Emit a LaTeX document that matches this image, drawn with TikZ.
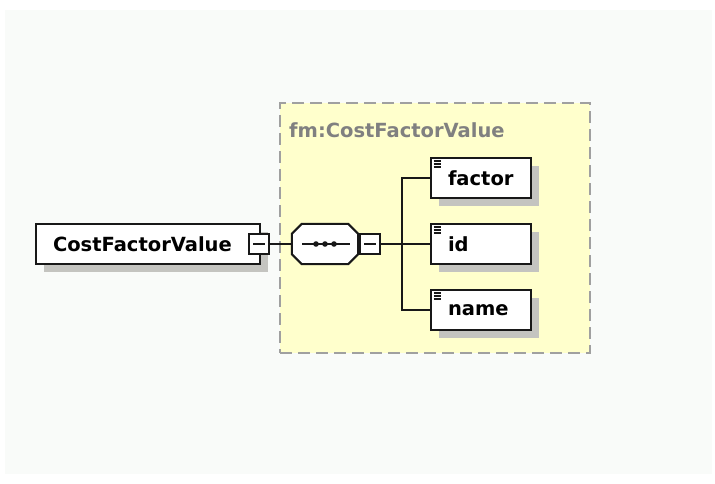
\documentclass[tikz,border=0pt]{standalone}
\usepackage{fontspec}
\setmainfont{DejaVu Sans}
\usetikzlibrary{shadows}
\definecolor{pagebg}{RGB}{249,251,249}
\definecolor{groupbg}{RGB}{255,255,204}
\definecolor{groupline}{RGB}{160,160,160}
\definecolor{shade}{RGB}{196,196,192}
\definecolor{titlegray}{RGB}{128,128,128}
\definecolor{boxline}{RGB}{24,24,24}

\begin{document}
\begin{tikzpicture}[x=1pt,y=-1pt]
	\tikzset{
		elem/.style={draw=boxline, line width=2pt, fill=white, minimum height=40pt,
			inner xsep=17pt, align=left, font=\bfseries\fontsize{19.5}{22}\selectfont,
			drop shadow={shadow xshift=8pt, shadow yshift=-8pt, fill=shade, opacity=1}},
		minus box/.style={draw=boxline, line width=2pt, fill=white, minimum size=20pt, inner sep=0pt},
		tree lines/.style={draw=boxline, line width=2pt},
	}
	% page
	\fill[white] (0,0) rectangle (715,484);
	\fill[pagebg] (5,10) rectangle (712,474);
	% group frame
	\node (group) at (435,228) [draw=groupline, fill=groupbg, dash pattern=on 12pt off 6pt,
		line width=2pt, minimum width=310pt, minimum height=250pt] {};
	\node (grouptitle) at (289,130) [anchor=west, inner sep=0pt, text=titlegray,
		font=\bfseries\fontsize{19.5}{22}\selectfont] {fm:CostFactorValue};
	% root element
	\node (root) at (148,244) [elem, text width=190pt] {CostFactorValue};
	\node (rootminus) at (259,244) [minus box] {};
	% sequence (octagon drawn round the node)
	\node (seq) at (325,244) [minimum width=66pt, minimum height=40pt, inner sep=0pt] {};
	\fill [shade, shift={(8,8)}] ([xshift=10pt]seq.north west) -- ([xshift=-10pt]seq.north east)
		-- ([yshift=-10pt]seq.north east) -- ([yshift=10pt]seq.south east)
		-- ([xshift=-10pt]seq.south east) -- ([xshift=10pt]seq.south west)
		-- ([yshift=10pt]seq.south west) -- ([yshift=-10pt]seq.north west) -- cycle;
	\filldraw [fill=white, draw=boxline, line width=2pt] ([xshift=10pt]seq.north west) -- ([xshift=-10pt]seq.north east)
		-- ([yshift=-10pt]seq.north east) -- ([yshift=10pt]seq.south east)
		-- ([xshift=-10pt]seq.south east) -- ([xshift=10pt]seq.south west)
		-- ([yshift=10pt]seq.south west) -- ([yshift=-10pt]seq.north west) -- cycle;
	\node (seqminus) at (370,244) [minus box] {};
	% children
	\node (factor) at (481,178) [elem, text width=66pt] {factor};
	\node (id) at (481,244) [elem, text width=66pt] {id};
	\node (name) at (481,310) [elem, text width=66pt] {name};
	\coordinate (trunk) at (402,244);
	% connectors
	\draw [tree lines] (rootminus) -- (seq);
	\draw [tree lines] (seqminus) -- (trunk);
	\draw [tree lines] (factor.west) -| (trunk) |- (name.west);
	\draw [tree lines] (trunk) -- (id.west);
	% minus signs and sequence symbol
	\foreach \m in {rootminus,seqminus}
		\draw [boxline, line width=2pt] ([xshift=-6pt]\m.center) -- ([xshift=6pt]\m.center);
	\draw [boxline, line width=2pt] ([xshift=-23pt]seq.center) -- ([xshift=25pt]seq.center);
	\foreach \dx in {-9,0,9}
		\fill [boxline] ([xshift=\dx pt]seq.center) circle (2.8pt);
	% simple type marks
	\foreach \c in {factor,id,name}
		\foreach \dy in {4,7,10}
			\draw [boxline, line width=1.4pt] ([xshift=3.5pt,yshift=-\dy pt]\c.north west) -- ++(7.5,0);
\end{tikzpicture}
\end{document}
